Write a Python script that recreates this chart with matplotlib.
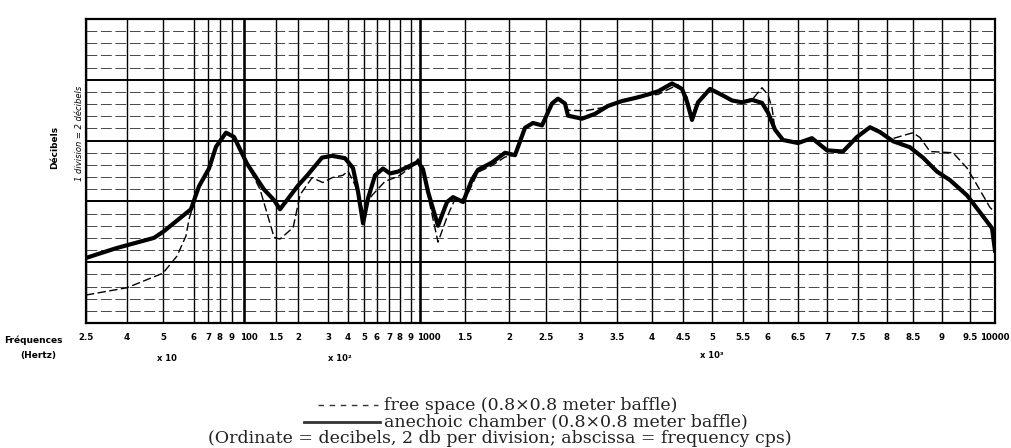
import numpy as np
import matplotlib
matplotlib.use("Agg")
import matplotlib.pyplot as plt
from matplotlib.lines import Line2D
from matplotlib.transforms import ScaledTranslation

# printed grid of the chart paper: frequency (Hz) -> position along the paper
grid_hz = [25, 40, 50, 60, 70, 80, 90, 100,
           150, 200, 300, 400, 500, 600, 700, 800, 900, 1000,
           1500, 2000, 2500, 3000, 3500, 4000, 4500, 5000, 5500,
           6000, 6500, 7000, 7500, 8000, 8500, 9000, 9500, 10000]
grid_pos = [0, 41, 77, 108, 122, 134, 146, 158,
            190, 212, 242, 262, 278, 291, 303, 314, 325, 334,
            379, 423, 460, 494, 531, 566, 597, 626, 657,
            682, 712, 741, 772, 801, 827, 856, 884, 909]
tick_labels = ["2.5", "4", "5", "6", "7", "8", "9", "100",
               "1.5", "2", "3", "4", "5", "6", "7", "8", "9", "1000",
               "1.5", "2", "2.5", "3", "3.5", "4", "4.5", "5", "5.5",
               "6", "6.5", "7", "7.5", "8", "8.5", "9", "9.5", "10000"]

# anechoic chamber (thick solid)
anechoic_hz = [25, 36, 47.5, 50.3, 59, 63.6, 70.8, 76.7, 85, 91.7,
               104.7, 131, 147, 159, 200, 233, 280, 320, 385, 431,
               462, 494, 531, 585, 650, 709, 782, 873, 978, 1033,
               1089, 1200, 1300, 1367, 1478, 1580, 1648, 1807, 1955, 2081,
               2216, 2324, 2446, 2588, 2676, 2779, 2824, 3027, 3203, 3378,
               3571, 3757, 3857, 4097, 4323, 4484, 4569, 4655, 4759, 4966,
               5161, 5323, 5484, 5680, 5880, 6000, 6117, 6250, 6500, 6741,
               7000, 7258, 7484, 7707, 7879, 8115, 8442, 8672, 8914, 9143,
               9446, 9700, 9940, 10000]
anechoic_db = [10.7, 12.3, 14.0, 15.1, 18.7, 22.5, 25.4, 29.0, 31.3, 30.6,
               26.2, 22.0, 20.2, 18.7, 22.6, 24.4, 27.2, 27.5, 27.1, 25.5,
               21.7, 16.4, 20.5, 24.3, 25.4, 24.6, 24.9, 25.7, 26.5, 25.3,
               21.6, 16.0, 19.9, 20.7, 19.9, 23.6, 25.2, 26.4, 28.0, 27.6,
               32.1, 32.9, 32.5, 36.1, 36.9, 36.1, 34.1, 33.6, 34.4, 35.7,
               36.5, 37.0, 37.3, 38.1, 39.4, 38.5, 36.4, 33.4, 36.3, 38.5,
               37.5, 36.6, 36.3, 36.7, 36.2, 34.6, 31.8, 30.1, 29.6, 30.4,
               28.4, 28.2, 30.6, 32.2, 31.4, 29.9, 28.9, 27.2, 24.9, 23.5,
               21.0, 18.2, 15.6, 11.9]

# free space (thin dashed)
free_hz = [25, 40, 50, 54.5, 57.4, 58.4, 59.4, 63.6, 70.8, 76.7,
           85, 91.7, 104.7, 125, 147, 159, 189, 207, 247, 283,
           320, 375, 400, 444, 494, 562, 667, 782, 911, 978,
           1033, 1089, 1200, 1300, 1389, 1500, 1648, 1807, 1955, 2081,
           2216, 2324, 2446, 2588, 2676, 2779, 2824, 3068, 3297, 3571,
           3757, 3857, 4097, 4258, 4419, 4569, 4655, 4759, 4966, 5161,
           5323, 5484, 5680, 5880, 6000, 6067, 6117, 6250, 6500, 6741,
           7000, 7258, 7484, 7707, 7879, 8058, 8500, 8621, 8793, 9196,
           9446, 9640, 9900, 10000]
free_db = [4.6, 5.8, 8.2, 11.0, 14.3, 17.1, 18.7, 22.5, 25.4, 29.0,
           31.3, 30.6, 26.2, 22.0, 14.1, 13.8, 15.7, 21.1, 23.9, 23.1,
           23.9, 24.3, 25.0, 22.7, 18.4, 21.0, 23.3, 24.1, 25.7, 27.0,
           25.8, 20.9, 13.3, 17.4, 20.4, 20.3, 24.8, 25.9, 27.3, 27.6,
           32.1, 32.9, 32.5, 36.1, 36.9, 36.1, 35.0, 34.9, 35.4, 36.5,
           37.0, 37.3, 37.6, 38.4, 39.2, 37.2, 34.0, 36.5, 38.5, 37.5,
           36.6, 36.3, 36.7, 38.7, 37.5, 35.4, 31.8, 30.1, 29.6, 30.4,
           28.4, 28.2, 30.6, 32.2, 31.4, 30.2, 31.3, 30.5, 28.2, 28.0,
           25.5, 22.7, 19.0, 18.2]


def fwd(f):
    return np.interp(f, grid_hz, grid_pos)


def inv(p):
    return np.interp(p, grid_pos, grid_hz)


W, H = 1012, 448
fig = plt.figure(figsize=(W / 100, H / 100), dpi=100)
ax = fig.add_axes([86 / W, 1 - 323 / H, 909 / W, 304 / H])
ax.set_xscale("function", functions=(fwd, inv))
ax.set_xlim(25, 10000)
ax.set_ylim(0, 50)

# paper grid
ax.set_xticks(grid_hz)
ax.set_xticklabels(tick_labels, fontsize=6.2, fontweight="bold")
ax.set_yticks(np.arange(0, 51, 10))
ax.set_yticks(np.arange(0, 51, 2), minor=True)
ax.tick_params(axis="both", which="both", length=0)
ax.tick_params(axis="x", pad=7)
ax.set_yticklabels([])
ax.grid(axis="x", color="black", lw=1.0)
ax.grid(axis="y", which="major", color="black", lw=1.4)
ax.grid(axis="y", which="minor", color="#3a3a3a", lw=0.65, ls=(0, (12, 4)))
for f in (100, 1000):
    ax.axvline(f, color="black", lw=1.8)
for s in ax.spines.values():
    s.set_linewidth(1.6)
ax.set_axisbelow(True)

# "100" and "1000" sit a little right of their lines, as printed
for lab in ax.get_xticklabels():
    if lab.get_text() in ("100", "1000"):
        dx = 5 if lab.get_text() == "100" else 9
        lab.set_transform(lab.get_transform() + ScaledTranslation(dx / 100, 0, fig.dpi_scale_trans))

ax.plot(free_hz, free_db, color="black", lw=1.0, ls=(0, (6, 2.5)))
ax.plot(anechoic_hz, anechoic_db, color="black", lw=3.0, solid_joinstyle="round")

# margin labels
fig.text(55 / W, 1 - 147 / H, "Décibels", rotation=90, ha="center", va="center",
         fontsize=6.5, fontweight="bold")
fig.text(80 / W, 1 - 133 / H, "1 division = 2 décibels", rotation=90,
         ha="center", va="center", fontsize=6, style="italic")
fig.text(33 / W, 1 - 340 / H, "Fréquences", ha="center", va="center",
         fontsize=6.5, fontweight="bold")
fig.text(38 / W, 1 - 355 / H, "(Hertz)", ha="center", va="center",
         fontsize=6.5, fontweight="bold")
fig.text(167 / W, 1 - 358 / H, "x 10", ha="center", va="center",
         fontsize=6, fontweight="bold")
fig.text(340 / W, 1 - 358 / H, "x 10²", ha="center", va="center",
         fontsize=6, fontweight="bold")
fig.text(712 / W, 1 - 356 / H, "x 10³", ha="center", va="center",
         fontsize=6, fontweight="bold")

# caption
cap = dict(fontsize=12.5, family="DejaVu Serif", color="#222222", va="center")
fig.add_artist(Line2D([318 / W, 378 / W], [1 - 405 / H] * 2, transform=fig.transFigure,
                      color="#333333", lw=1.0, ls=(0, (4, 4))))
fig.text(384 / W, 1 - 405 / H, "free space (0.8×0.8 meter baffle)", ha="left", **cap)
fig.add_artist(Line2D([304 / W, 380 / W], [1 - 422 / H] * 2, transform=fig.transFigure,
                      color="#333333", lw=2.0))
fig.text(384 / W, 1 - 422 / H, "anechoic chamber (0.8×0.8 meter baffle)", ha="left", **cap)
fig.text(500 / W, 1 - 438 / H,
         "(Ordinate = decibels, 2 db per division; abscissa = frequency cps)",
         ha="center", **cap)

fig.savefig("out.png", dpi=100)
